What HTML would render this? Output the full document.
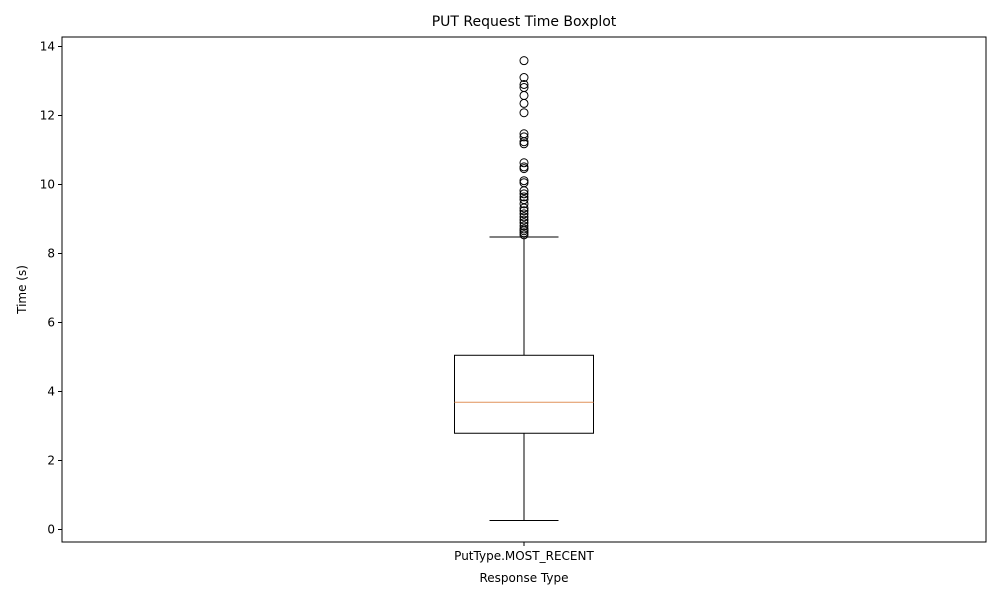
<!DOCTYPE html>
<html><head><meta charset="utf-8"><style>body{margin:0;background:#fff}svg text{font-family:"DejaVu Sans","Liberation Sans",sans-serif}</style></head>
<body>
<svg id="chart" width="1000" height="600" xmlns="http://www.w3.org/2000/svg"></svg>
<script>
const categories=["PutType.MOST_RECENT"];
const q1=[2.79], median=[3.69], q3=[5.05], whiskerLow=[0.26], whiskerHigh=[8.48];
const outliers=[[13.59,13.10,12.90,12.81,12.58,12.35,12.08,11.47,11.38,11.24,11.18,10.63,10.51,10.46,10.11,10.05,9.82,9.73,9.64,9.56,9.44,9.32,9.24,9.15,9.06,8.97,8.89,8.80,8.71,8.66,8.60,8.54]];
const yTicks=[0,2,4,6,8,10,12,14];
const L=62,R=986,T=37,B=542;
const y=v=>529.5-v*34.5;
const x=i=>L+(R-L)*((i+1-0.5)/categories.length);
const svg=document.getElementById('chart');
const NS='http://www.w3.org/2000/svg';
function el(t,a,txt){const e=document.createElementNS(NS,t);for(const k in a)e.setAttribute(k,a[k]);if(txt!==undefined)e.textContent=txt;svg.appendChild(e);return e;}
let e;
e=el('text',{x:524,y:26,'font-size':14,'text-anchor':'middle'},'PUT Request Time Boxplot');


e=el('text',{x:524,y:582,'font-size':12,'text-anchor':'middle'},'Response Type');


e=el('text',{x:0,y:0,'font-size':12,'text-anchor':'middle',transform:'translate(26,289.5) rotate(-90)'},'Time (s)');


yTicks.forEach(t=>{
 e=el('line',{x1:L-4,x2:L,y1:y(t),y2:y(t),stroke:'#000','stroke-width':1});
 
 
 e=el('text',{x:L-7,y:y(t)+4,'font-size':12,'text-anchor':'end'},String(t));
 
 
});
categories.forEach((c,i)=>{
 const cx=x(i),hw=69.5,cw=34.5;
 e=el('line',{x1:cx,x2:cx,y1:y(q1[i]),y2:y(whiskerLow[i]),stroke:'#000'});
 
 
 e=el('line',{x1:cx,x2:cx,y1:y(q3[i]),y2:y(whiskerHigh[i]),stroke:'#000'});
 
 
 e=el('line',{x1:cx-cw,x2:cx+cw,y1:y(whiskerLow[i]),y2:y(whiskerLow[i]),stroke:'#000'});
 
 
 e=el('line',{x1:cx-cw,x2:cx+cw,y1:y(whiskerHigh[i]),y2:y(whiskerHigh[i]),stroke:'#000'});
 
 
 e=el('rect',{x:cx-hw,y:y(q3[i]),width:2*hw,height:y(q1[i])-y(q3[i]),fill:'none',stroke:'#000'});
 
 
 e=el('line',{x1:cx-hw,x2:cx+hw,y1:y(median[i]),y2:y(median[i]),stroke:'#e0925a'});
 
 
 outliers[i].forEach(v=>{
  e=el('circle',{cx:cx,cy:y(v),r:4,fill:'none',stroke:'#000'});
  
  
 });
 e=el('line',{x1:cx,x2:cx,y1:B,y2:B+4,stroke:'#000'});
 
 
 e=el('text',{x:cx,y:B+18,'font-size':12,'text-anchor':'middle'},c);
 
 
});
e=el('rect',{x:L,y:T,width:R-L,height:B-T,fill:'none',stroke:'#000','stroke-width':1});


</script>
</body></html>
